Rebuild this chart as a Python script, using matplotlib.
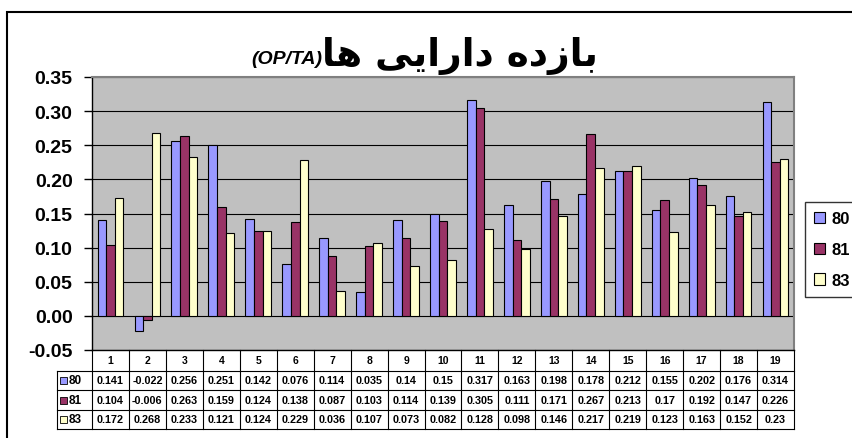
import matplotlib
matplotlib.use("Agg")
import matplotlib.pyplot as plt
import matplotlib.transforms as mtransforms
from matplotlib.patches import Rectangle
from matplotlib.lines import Line2D
from matplotlib.ticker import FormatStrFormatter
import numpy as np

plt.rcParams['font.family'] = ['Liberation Sans', 'DejaVu Sans']

categories = [str(i) for i in range(1, 20)]
series_names = ["80", "81", "83"]
vals_80 = [0.141, -0.022, 0.256, 0.251, 0.142, 0.076, 0.114, 0.035, 0.14, 0.15,
           0.317, 0.163, 0.198, 0.178, 0.212, 0.155, 0.202, 0.176, 0.314]
vals_81 = [0.104, -0.006, 0.263, 0.159, 0.124, 0.138, 0.087, 0.103, 0.114, 0.139,
           0.305, 0.111, 0.171, 0.267, 0.213, 0.17, 0.192, 0.147, 0.226]
vals_83 = [0.172, 0.268, 0.233, 0.121, 0.124, 0.229, 0.036, 0.107, 0.073, 0.082,
           0.128, 0.098, 0.146, 0.217, 0.219, 0.123, 0.163, 0.152, 0.23]
yticks = [-0.05, 0.0, 0.05, 0.10, 0.15, 0.20, 0.25, 0.30, 0.35]

# title: "بازده دارایی ها" in shaped presentation forms (visual order)
title_fa = "\uFE8E\uFEEB \uFEF0\uFEF3\uFE8D\uFEAD\uFE8D\uFEA9 \uFEE9\uFEA9\uFEAF\uFE8E\uFE91"
title_en = "(OP/TA)"

colors = ["#9999FF", "#993366", "#FFFFCC"]
series = [vals_80, vals_81, vals_83]

W, H = 853, 439
fig = plt.figure(figsize=(W / 100, H / 100), dpi=100)


def fx(x):
    return x / W


def fy(y):
    return 1 - y / H


# outer chart frame (cropped on the right / bottom)
fig.add_artist(Rectangle((fx(7), fy(470)), 900 / W, (470 - 13) / H, fill=False,
                         lw=1.5, edgecolor='black', transform=fig.transFigure))

left, right, top, bottom = 92, 794, 78, 351
ax = fig.add_axes([fx(left), fy(bottom), (right - left) / W, (bottom - top) / H])
ax.set_facecolor("#C0C0C0")

x = np.arange(len(categories))
bw = 0.233
for k, (name, vals, c) in enumerate(zip(series_names, series, colors)):
    ax.bar(x + (k - 1) * bw, vals, bw, color=c, edgecolor='black',
           linewidth=0.8, label=name, zorder=3)

ax.set_xlim(-0.5, len(categories) - 0.5)
ax.set_ylim(-0.05, 0.35)
ax.set_yticks(yticks)
ax.yaxis.set_major_formatter(FormatStrFormatter('%.2f'))
ax.tick_params(axis='y', length=6, width=1, direction='out', labelsize=14, pad=8)
for lab in ax.get_yticklabels():
    lab.set_fontweight('bold')
ax.set_xticks([])
ax.grid(axis='y', color='black', lw=0.8)
ax.set_axisbelow(True)
for s in ['top', 'right']:
    ax.spines[s].set_color('#808080')
    ax.spines[s].set_linewidth(1.5)
ax.spines['left'].set_linewidth(1)
ax.spines['bottom'].set_linewidth(1)

# data table below the plot
tr = mtransforms.blended_transform_factory(ax.transData, fig.transFigure)
row_edges = [351, 372, 391, 411, 430]
head_left = 57
for b in np.arange(len(categories) + 1) - 0.5:
    fig.add_artist(Line2D([b, b], [fy(row_edges[0]), fy(row_edges[-1])],
                          color='black', lw=0.8, transform=tr))
for yy in row_edges[1:]:
    fig.add_artist(Line2D([fx(head_left), fx(right)], [fy(yy), fy(yy)],
                          color='black', lw=0.8, transform=fig.transFigure))
fig.add_artist(Line2D([fx(head_left), fx(head_left)], [fy(row_edges[1]), fy(row_edges[-1])],
                      color='black', lw=0.8, transform=fig.transFigure))

yc = (row_edges[0] + row_edges[1]) / 2
for i, cat in enumerate(categories):
    fig.text(i, fy(yc), cat, transform=tr, ha='center', va='center',
             fontsize=7.5, fontweight='bold')

for r, (name, vals, c) in enumerate(zip(series_names, series, colors)):
    yc = (row_edges[r + 1] + row_edges[r + 2]) / 2
    fig.add_artist(Rectangle((fx(60), fy(yc + 3.5)), 7 / W, 7 / H, facecolor=c,
                             edgecolor='black', lw=0.6, transform=fig.transFigure))
    fig.text(fx(69), fy(yc), name, ha='left', va='center', fontsize=8.5, fontweight='bold')
    for i, v in enumerate(vals):
        fig.text(i, fy(yc), f"{v:g}", transform=tr, ha='center', va='center',
                 fontsize=7.8, fontweight='bold')

leg = ax.legend(loc='upper left', bbox_to_anchor=(fx(805), fy(203)),
                bbox_transform=fig.transFigure, frameon=True, fancybox=False,
                prop={'size': 12, 'weight': 'bold'}, handlelength=0.65,
                handleheight=0.65, labelspacing=0.95, borderpad=0.55,
                handletextpad=0.4, borderaxespad=0)
leg.get_frame().set_edgecolor('black')
leg.get_frame().set_linewidth(1)

fig.text(fx(322), fy(66), title_fa, ha='left', va='baseline', fontsize=27,
         fontweight='bold', family=['DejaVu Sans'])
fig.text(fx(322), fy(64), title_en, ha='right', va='baseline', fontsize=14,
         fontweight='bold', fontstyle='italic')

fig.savefig("out.png", dpi=100)
